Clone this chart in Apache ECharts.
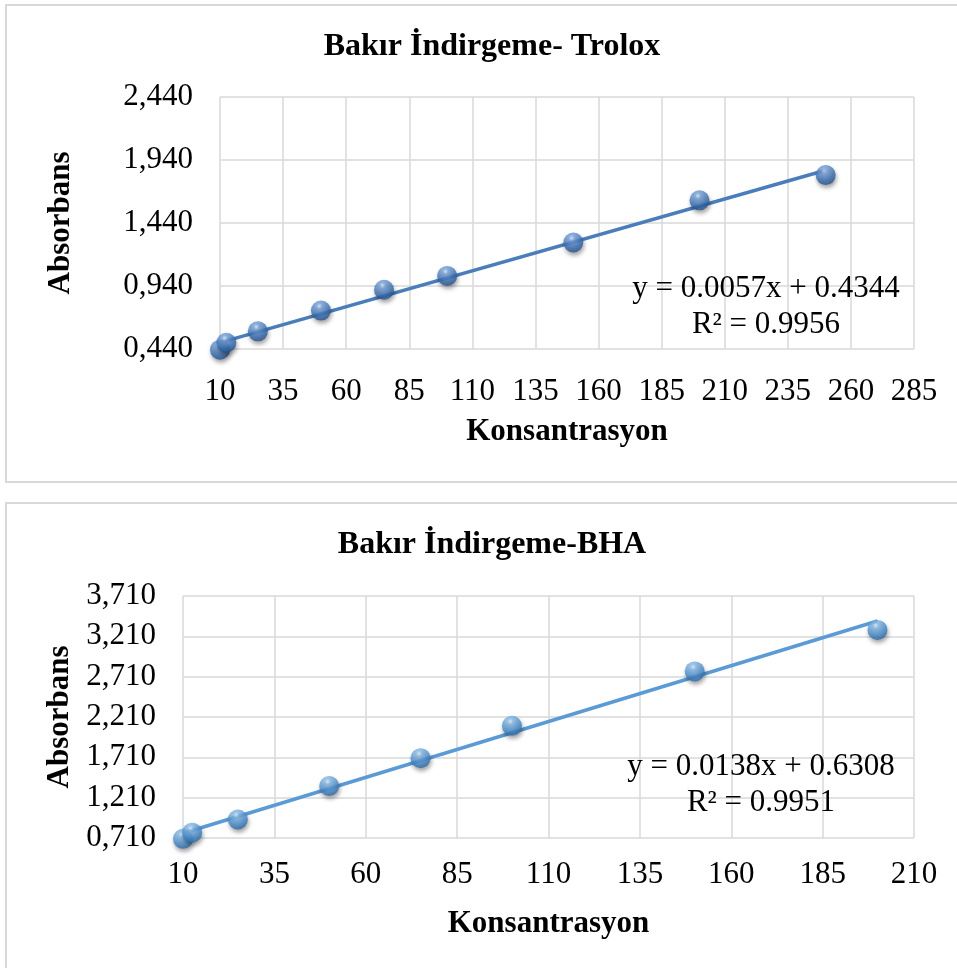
<!DOCTYPE html>
<html><head><meta charset="utf-8">
<script src="https://cdn.jsdelivr.net/npm/echarts@6/dist/echarts.min.js"></script>
<style>html,body{margin:0;padding:0;background:#fff}#c{width:957px;height:968px}</style>
</head><body><div id="c"></div>
<script>
// ---- Chart 1: Bakır İndirgeme- Trolox ----
const troloxTitle = 'Bakır İndirgeme- Trolox';
const troloxX = [10, 12.5, 25, 50, 75, 100, 150, 200, 250];
const troloxY = [0.435, 0.49, 0.58, 0.745, 0.91, 1.02, 1.285, 1.62, 1.82];
const troloxTrendX = [10, 250];
const troloxTrendY = [0.491, 1.859];
const troloxEquation = ['y = 0.0057x + 0.4344', 'R² = 0.9956'];
const troloxXAxis = [10, 285, 25];      // min, max, step
const troloxYAxis = [0.44, 2.44, 0.5];  // min, max, step

// ---- Chart 2: Bakır İndirgeme-BHA ----
const bhaTitle = 'Bakır İndirgeme-BHA';
const bhaX = [10, 12.5, 25, 50, 75, 100, 150, 200];
const bhaY = [0.70, 0.776, 0.94, 1.355, 1.70, 2.10, 2.775, 3.29];
const bhaTrendX = [10, 200];
const bhaTrendY = [0.769, 3.40];
const bhaEquation = ['y = 0.0138x + 0.6308', 'R² = 0.9951'];
const bhaXAxis = [10, 210, 25];
const bhaYAxis = [0.71, 3.71, 0.5];

const xName = 'Konsantrasyon';
const yName = 'Absorbans';

const FONT = '"Liberation Serif", "Times New Roman", serif';
const GRID_COLOR = '#d9d9d9';

function pairs(xs, ys) { return xs.map((x, i) => [x, ys[i]]); }
function sphere(stops) {
  return new echarts.graphic.RadialGradient(0.42, 0.28, 0.8,
    stops.map((c, i) => ({ offset: [0, 0.18, 0.6, 1][i], color: c })));
}
function xAxisOf(idx, cfg, nameGap, margin) {
  return {
    type: 'value', gridIndex: idx, min: cfg[0], max: cfg[1], interval: cfg[2],
    name: xName, nameLocation: 'middle', nameGap: nameGap,
    nameTextStyle: { fontFamily: FONT, fontSize: 31, fontWeight: 'bold', color: '#000' },
    axisLine: { show: false }, axisTick: { show: false },
    axisLabel: { fontFamily: FONT, fontSize: 31, color: '#000', margin: margin },
    splitLine: { show: true, lineStyle: { color: GRID_COLOR, width: 1.5 } }
  };
}
function yAxisOf(idx, cfg, nameGap) {
  return {
    type: 'value', gridIndex: idx, min: cfg[0], max: cfg[1], interval: cfg[2],
    name: yName, nameLocation: 'middle', nameGap: nameGap, nameRotate: 90,
    nameTextStyle: { fontFamily: FONT, fontSize: 31, fontWeight: 'bold', color: '#000' },
    axisLine: { show: false }, axisTick: { show: false },
    axisLabel: { fontFamily: FONT, fontSize: 31, color: '#000', margin: 27,
      formatter: v => v.toFixed(3).replace('.', ',') },
    splitLine: { show: true, lineStyle: { color: GRID_COLOR, width: 1.5 } }
  };
}
function eqText(lines, cx, cy) {
  return lines.map((t, i) => ({
    type: 'text', x: cx, y: cy + i * 36, z: 10,
    style: { text: t, fontFamily: FONT, fontSize: 31, fill: '#000', textAlign: 'center', textVerticalAlign: 'middle' }
  }));
}

const chart = echarts.init(document.getElementById('c'), null, { renderer: 'canvas' });
chart.setOption({
  backgroundColor: '#fff',
  animation: false,
  title: [
    { text: troloxTitle, left: 487, top: 26, textAlign: 'center',
      textStyle: { fontFamily: FONT, fontSize: 32, fontWeight: 'bold', color: '#000' } },
    { text: bhaTitle, left: 487, top: 524, textAlign: 'center',
      textStyle: { fontFamily: FONT, fontSize: 32, fontWeight: 'bold', color: '#000' } }
  ],
  grid: [
    { left: 220, top: 97, width: 694, height: 252 },
    { left: 183, top: 596, width: 731, height: 242 }
  ],
  xAxis: [ xAxisOf(0, troloxXAxis, 67, 27), xAxisOf(1, bhaXAxis, 70, 21) ],
  yAxis: [ yAxisOf(0, troloxYAxis, 144), yAxisOf(1, bhaYAxis, 106) ],
  graphic: [
    { type: 'rect', shape: { x: 6, y: 5, width: 970, height: 477 }, z: -1,
      style: { fill: 'none', stroke: GRID_COLOR, lineWidth: 2 } },
    { type: 'rect', shape: { x: 6, y: 503, width: 970, height: 490 }, z: -1,
      style: { fill: 'none', stroke: GRID_COLOR, lineWidth: 2 } },
    ...eqText(troloxEquation, 766, 289),
    ...eqText(bhaEquation, 761, 767)
  ],
  series: [
    { type: 'line', xAxisIndex: 0, yAxisIndex: 0, data: pairs(troloxTrendX, troloxTrendY),
      symbol: 'none', lineStyle: { color: '#4a7ebb', width: 3.5 }, z: 2, clip: false },
    { type: 'scatter', xAxisIndex: 0, yAxisIndex: 0, data: pairs(troloxX, troloxY),
      symbolSize: 20, clip: false, z: 3,
      itemStyle: { color: sphere(['#dbe8f8', '#78a4dc', '#3b72b6', '#1d4880']), shadowBlur: 4,
        shadowColor: 'rgba(0,0,0,0.45)', shadowOffsetY: 3, shadowOffsetX: 1 } },
    { type: 'line', xAxisIndex: 1, yAxisIndex: 1, data: pairs(bhaTrendX, bhaTrendY),
      symbol: 'none', lineStyle: { color: '#5b9bd5', width: 3.5 }, z: 2, clip: false },
    { type: 'scatter', xAxisIndex: 1, yAxisIndex: 1, data: pairs(bhaX, bhaY),
      symbolSize: 20, clip: false, z: 3,
      itemStyle: { color: sphere(['#e2effb', '#89bdea', '#4a8fd0', '#245f9a']), shadowBlur: 4,
        shadowColor: 'rgba(0,0,0,0.45)', shadowOffsetY: 3, shadowOffsetX: 1 } }
  ]
});
</script></body></html>
